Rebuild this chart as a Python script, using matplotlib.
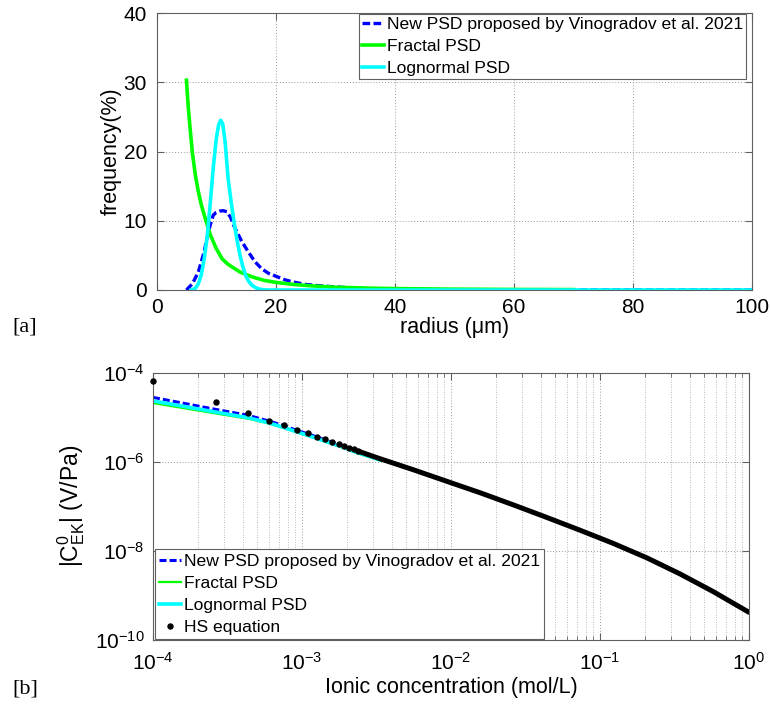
import numpy as np
import matplotlib
matplotlib.use('Agg')
import matplotlib.pyplot as plt
from matplotlib.ticker import LogLocator, NullLocator

plt.rcParams['font.family'] = ['Liberation Sans', 'DejaVu Sans']
plt.rcParams['mathtext.fontset'] = 'custom'
plt.rcParams['mathtext.rm'] = 'Liberation Sans'
plt.rcParams['mathtext.it'] = 'Liberation Sans:italic'
plt.rcParams['mathtext.bf'] = 'Liberation Sans:bold'

# ---- panel [a] : pore size distributions ----
r_new = [5.0, 6.0, 7.0, 8.0, 8.4, 9.0, 9.5, 10.0, 10.6, 11.2, 11.8, 12.4, 12.9, 13.6,
         14.3, 15.4, 16.5, 17.6, 18.8, 20.0, 21.6, 23.0, 25.0, 27.5, 30.0, 35.0, 40.0,
         50.0, 60.0, 80.0, 100.0]
f_new = [0.0, 0.9, 2.6, 5.6, 7.3, 9.4, 10.8, 11.2, 11.4, 11.45, 11.3, 10.5, 9.4, 8.2,
         7.0, 5.5, 4.1, 3.1, 2.4, 2.0, 1.45, 1.15, 0.8, 0.6, 0.45, 0.2, 0.1,
         0.03, 0.01, 0.0, 0.0]

r_frac = [5.0, 5.3, 5.6, 6.0, 6.5, 7.0, 7.5, 8.0, 9.0, 10.0, 11.0, 12.0, 14.0, 16.0,
          18.0, 20.0, 23.0, 26.0, 30.0, 35.0, 40.0, 50.0, 60.0, 70.0]
f_frac = [30.3, 26.5, 23.5, 19.8, 16.6, 14.2, 12.3, 10.8, 8.0, 6.0, 4.5, 3.7, 2.6, 1.9,
          1.4, 1.1, 0.8, 0.6, 0.4, 0.28, 0.2, 0.12, 0.08, 0.06]

r_logn = [5.8, 6.0, 6.5, 7.0, 7.5, 8.0, 8.5, 9.0, 9.5, 10.0, 10.4, 10.75, 11.1, 11.5,
          12.0, 12.5, 13.0, 13.5, 14.0, 14.5, 15.0, 15.5, 16.0, 16.5, 17.0, 17.5,
          18.5, 40.0, 70.0, 100.0]
f_logn = [0.0, 0.05, 0.25, 0.9, 2.2, 4.6, 7.8, 12.5, 17.6, 21.8, 23.8, 24.5, 24.0, 21.4,
          16.1, 12.8, 9.8, 7.2, 5.0, 3.3, 2.0, 1.2, 0.7, 0.4, 0.2, 0.08,
          0.0, 0.0, 0.0, 0.0]

# ---- panel [b] : coupling coefficient vs concentration ----
conc = [1.0e-4, 2.66e-4, 4.33e-4, 5.98e-4, 7.6e-4, 9.25e-4, 1.10e-3, 1.27e-3, 1.43e-3,
        1.60e-3, 1.76e-3, 1.92e-3, 2.08e-3, 2.23e-3, 2.39e-3, 3.33e-3]
c_new = [2.79e-5, 1.49e-5, 1.11e-5, 8.22e-6, 6.46e-6, 5.01e-6, 4.22e-6, 3.55e-6, 3.09e-6,
         2.72e-6, 2.45e-6, 2.21e-6, 2.00e-6, 1.82e-6, 1.66e-6, 1.15e-6]
c_frac = [2.09e-5, 1.21e-5, 9.33e-6, 7.24e-6, 5.69e-6, 4.57e-6, 3.80e-6, 3.24e-6, 2.82e-6,
          2.48e-6, 2.24e-6, 2.02e-6, 1.82e-6, 1.66e-6, 1.53e-6, 1.07e-6]
c_logn = [2.33e-5, 1.30e-5, 9.77e-6, 7.50e-6, 5.82e-6, 4.68e-6, 3.89e-6, 3.31e-6, 2.88e-6,
          2.54e-6, 2.29e-6, 2.07e-6, 1.86e-6, 1.70e-6, 1.57e-6, 1.10e-6]

hs_x = [1.0e-4, 2.66e-4, 4.33e-4, 5.98e-4, 7.6e-4, 9.25e-4, 1.10e-3, 1.27e-3, 1.43e-3,
        1.60e-3, 1.76e-3, 1.92e-3, 2.08e-3, 2.23e-3, 2.39e-3]
hs_y = [6.5e-5, 2.17e-5, 1.25e-5, 8.4e-6, 6.56e-6, 5.13e-6, 4.33e-6, 3.64e-6, 3.16e-6,
        2.81e-6, 2.53e-6, 2.28e-6, 2.05e-6, 1.88e-6, 1.72e-6]
# dense part of the HS points (dots overlap into a thick band)
hs_dense_x = [2.39e-3, 3.33e-3, 5.58e-3, 9.35e-3, 1.57e-2, 2.62e-2, 4.38e-2, 7.34e-2,
              0.123, 0.206, 0.344, 0.575, 1.0]
hs_dense_y = [1.72e-6, 1.17e-6, 6.6e-7, 3.63e-7, 2.0e-7, 1.07e-7, 5.6e-8, 2.88e-8,
              1.45e-8, 6.9e-9, 3.0e-9, 1.2e-9, 4.1e-10]

labels = ['New PSD proposed by Vinogradov et al. 2021', 'Fractal PSD', 'Lognormal PSD']

BLUE, GREEN, CYAN = '#0000FF', '#00FF00', '#00FFFF'
SPINE = '#606060'
TICK_FS = 15
LAB_FS = 15.5
LEG_FS = 12.6


def style_axes(ax, xpad, ypad):
    for s in ax.spines.values():
        s.set_color(SPINE)
        s.set_linewidth(0.8)
    ax.tick_params(which='both', direction='in', top=True, right=True,
                   color=SPINE, labelsize=TICK_FS)
    ax.tick_params(axis='x', which='both', pad=xpad)
    ax.tick_params(axis='y', which='both', pad=ypad)
    ax.tick_params(which='major', length=5)
    ax.tick_params(which='minor', length=3)


def make_legend(ax, borderpad, **kw):
    leg = ax.legend(borderaxespad=0, fontsize=LEG_FS, frameon=True, fancybox=False,
                    framealpha=1, edgecolor=SPINE, handlelength=1.25, handletextpad=0.15,
                    labelspacing=0.38, borderpad=borderpad, **kw)
    leg.get_frame().set_linewidth(0.8)
    return leg


fig = plt.figure(figsize=(7.71, 7.08), dpi=100)

# ---------------- [a] ----------------
ax1 = fig.add_axes([0.2032, 0.5904, 0.7721, 0.3912])
ax1.plot(r_new, f_new, color=BLUE, lw=2.4, dashes=(2.3, 1.0), label=labels[0])
ax1.plot(r_frac, f_frac, color=GREEN, lw=2.6, label=labels[1])
ax1.plot(r_logn, f_logn, color=CYAN, lw=2.6, label=labels[2])
ax1.set_xlim(0, 100)
ax1.set_ylim(0, 40)
ax1.set_xticks([0, 20, 40, 60, 80, 100])
ax1.set_yticks([0, 10, 20, 30, 40])
ax1.grid(True, which='major', color='0.6', lw=0.7, linestyle=(0, (1, 2)))
ax1.set_axisbelow(True)
style_axes(ax1, xpad=6, ypad=7)
ax1.set_xlabel('radius (μm)', fontsize=LAB_FS, labelpad=0)
ax1.set_ylabel('frequency(%)', fontsize=LAB_FS, labelpad=1)
make_legend(ax1, 0.18, loc='upper right', bbox_to_anchor=(1 - 6 / 595, 1 - 1 / 277))

# ---------------- [b] ----------------
ax2 = fig.add_axes([0.1984, 0.0967, 0.7730, 0.3768])
ax2.plot(conc, c_new, color=BLUE, lw=2.2, dashes=(2.3, 1.0), label=labels[0])
ax2.plot(conc, c_frac, color=GREEN, lw=1.6, label=labels[1])
ax2.plot(conc, c_logn, color=CYAN, lw=2.6, label=labels[2])
ax2.plot(hs_dense_x, hs_dense_y, color='black', lw=3.6, solid_capstyle='round', zorder=3)
ax2.plot(hs_x, hs_y, linestyle='none', marker='o', ms=3.6, color='black',
         label='HS equation', clip_on=False, zorder=4)
ax2.set_xscale('log')
ax2.set_yscale('log')
ax2.set_xlim(1e-4, 1)
ax2.set_ylim(1e-10, 1e-4)
ax2.set_xticks([1e-4, 1e-3, 1e-2, 1e-1, 1])
ax2.xaxis.set_minor_locator(LogLocator(base=10, subs=np.arange(2, 10), numticks=20))
ax2.set_yticks([1e-10, 1e-8, 1e-6, 1e-4])
ax2.yaxis.set_minor_locator(NullLocator())
ax2.grid(True, which='major', color='0.6', lw=0.7, linestyle=(0, (1, 2)))
ax2.grid(True, which='minor', axis='x', color='0.65', lw=0.6, linestyle=(0, (1, 2)))
ax2.set_axisbelow(True)
style_axes(ax2, xpad=9, ypad=6)
ax2.set_xlabel('Ionic concentration (mol/L)', fontsize=LAB_FS, labelpad=2)
ax2.set_ylabel(r'$|\mathrm{C}^{0}_{\mathrm{EK}}|$ (V/Pa)', fontsize=16.5, labelpad=6)
make_legend(ax2, 0.25, loc='lower left', bbox_to_anchor=(2 / 596, 0.5 / 267))

fig.text(12 / 771, 1 - 327 / 708, '[a]', family='Liberation Serif', fontsize=16, va='center')
fig.text(12 / 771, 1 - 689 / 708, '[b]', family='Liberation Serif', fontsize=16, va='center')

fig.savefig('out.png', dpi=100)
